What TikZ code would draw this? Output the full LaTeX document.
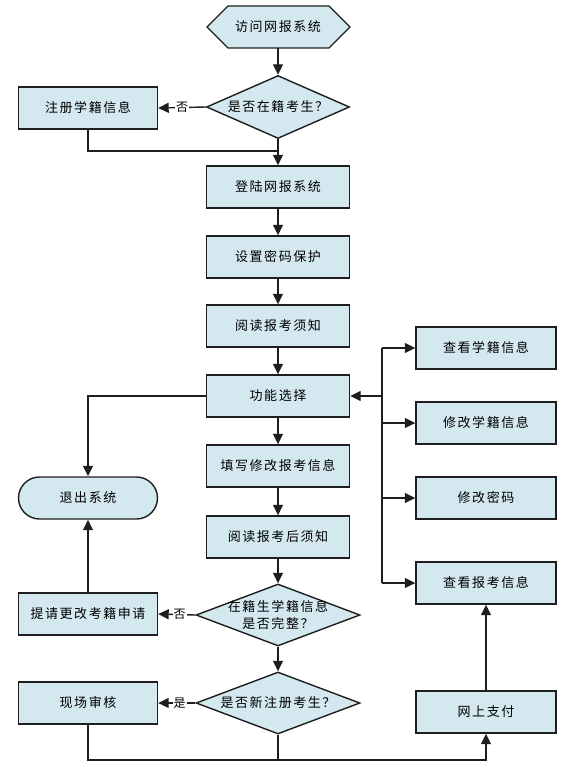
\documentclass[tikz,border=0pt]{standalone}
\usepackage{fontspec}
\setmainfont[LetterSpace=12]{Noto Sans CJK SC}
\usetikzlibrary{shapes.geometric,arrows.meta}
\definecolor{boxfill}{HTML}{D3E8EF}
\definecolor{edge}{HTML}{1E1E1E}
\tikzset{
  box/.style={draw=edge,fill=boxfill,line width=1.4pt,minimum width=143pt,minimum height=42pt,inner sep=0pt,font=\fontsize{13}{15}\selectfont},
  sbox/.style={box,minimum width=139pt},
  dia/.style={draw=edge,fill=boxfill,line width=1.4pt,diamond,inner sep=0pt,aspect=2},
  txt/.style={font=\fontsize{13}{17}\selectfont,align=center,inner sep=0pt},
  lab/.style={font=\fontsize{12}{12}\selectfont,fill=white,inner sep=1pt},
  arr/.style={draw=edge,line width=1.4pt,-{Triangle[length=10.5pt,width=10pt]}},
  ln/.style={draw=edge,line width=1.4pt}
}
\begin{document}
\begin{tikzpicture}[x=1pt,y=-1pt]
\useasboundingbox (0,0) rectangle (571,773);
% hexagon start
\draw[draw=edge,fill=boxfill,line width=1.4pt] (207,27) -- (228,6) -- (329,6) -- (350,27) -- (329,48) -- (228,48) -- cycle;
\node[txt,minimum width=143pt,minimum height=42pt] (start) at (278,27) {访问网报系统};
% decision 1
\node[dia,minimum width=143pt,minimum height=63pt] (d1) at (278,107) {};
\node[txt] (d1t) at (d1) {是否在籍考生？};
\node[sbox] (reg) at (88,108) {注册学籍信息};
% main column
\node[box] (login) at (278,187) {登陆网报系统};
\node[box] (pwd) at (278,257) {设置密码保护};
\node[box] (read) at (278,326) {阅读报考须知};
\node[box] (func) at (278,396) {功能选择};
\node[box] (fill) at (278,466) {填写修改报考信息};
\node[box] (after) at (278,537) {阅读报考后须知};
\node[dia,minimum width=164pt,minimum height=62pt] (d2) at (278,615) {};
\node[txt] (d2t) at (d2) {在籍生学籍信息\\是否完整？};
\node[dia,minimum width=164pt,minimum height=62pt] (d3) at (278,703) {};
\node[txt] (d3t) at (d3) {是否新注册考生？};
% left column
\node[sbox,rounded corners=21pt] (exit) at (88,498) {退出系统};
\node[sbox] (req) at (88,614) {提请更改考籍申请};
\node[sbox] (site) at (88,703) {现场审核};
% right column
\node[sbox,minimum width=140pt] (chk) at (486,348) {查看学籍信息};
\node[sbox,minimum width=140pt] (mod) at (486,423) {修改学籍信息};
\node[sbox,minimum width=140pt] (mpw) at (486,498) {修改密码};
\node[sbox,minimum width=140pt] (view) at (486,583) {查看报考信息};
\node[sbox,minimum width=140pt] (pay) at (486,712) {网上支付};
% coordinates
\coordinate (m1) at (278,151);
\coordinate (bus) at (382,0);
\coordinate (b) at (486,760);
% connectors
\draw[arr] (start.south) -- (d1.north);
\draw[arr] (d1.west) -- node[lab,pos=0.5] {否} (reg.east);
\draw[ln] (reg.south) |- (m1);
\draw[arr] (d1.south) -- (login.north);
\draw[arr] (login) -- (pwd);
\draw[arr] (pwd) -- (read);
\draw[arr] (read) -- (func);
\draw[arr] (func) -- (fill);
\draw[arr] (fill) -- (after);
\draw[arr] (after.south) -- (d2.north);
\draw[arr] (d2.south) -- (d3.north);
\draw[arr] (d2.west) -- node[lab,pos=0.42] {否} (req.east);
\draw[arr] (d3.west) -- node[lab,pos=0.42] {是} (site.east);
\draw[arr] (req.north) -- (exit.south);
\draw[arr] (func.west) -| (exit.north);
\draw[ln] (bus |- chk.west) -- (bus |- view.west);
\draw[arr] (bus |- func.east) -- (func.east);
\draw[arr] (bus |- chk.west) -- (chk.west);
\draw[arr] (bus |- mod.west) -- (mod.west);
\draw[arr] (bus |- mpw.west) -- (mpw.west);
\draw[arr] (bus |- view.west) -- (view.west);
\draw[arr] (site.south) |- (b) -- (pay.south);
\draw[ln] (d3.south) -- (d3.south |- b);
\draw[arr] (pay.north) -- (view.south);
\end{tikzpicture}
\end{document}
